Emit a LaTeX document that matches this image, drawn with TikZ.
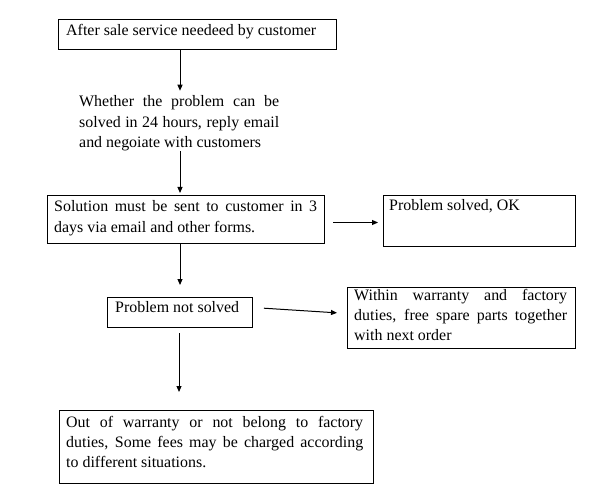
\documentclass[tikz,border=0pt]{standalone}
\usepackage{fontspec}
\setmainfont{Liberation Serif}
\usetikzlibrary{arrows.meta}
\begin{document}
\begin{tikzpicture}[x=1bp,y=-1bp,
  box/.style={draw, line width=1bp, inner sep=0pt, anchor=north west},
  txt/.style={inner sep=0pt, anchor=base west, font=\fontsize{16}{20.5}\selectfont},
  arr/.style={draw, line width=1bp, -{Triangle[length=6bp,width=5bp]}}]
\useasboundingbox (0,0) rectangle (600,493);
% boxes
\node[box, minimum width=278bp, minimum height=30bp] (b1) at (58,19) {};
\node[box, minimum width=277bp, minimum height=48bp] (b3) at (47,195) {};
\node[box, minimum width=192bp, minimum height=51bp] (b4) at (383,195) {};
\node[box, minimum width=145bp, minimum height=30bp] (b5) at (107,297) {};
\node[box, minimum width=228bp, minimum height=61bp] (b6) at (347,287) {};
\node[box, minimum width=314bp, minimum height=73bp] (b7) at (59,410) {};
% texts
\node[txt] (t1) at (66,36) {After sale service needeed by customer};
\node[txt] (t2) at (79,107) {\parbox[t]{200bp}{\makebox[200bp][s]{Whether the problem can be}\\
  \makebox[200bp][s]{solved in 24 hours, reply email}\\
  and negoiate with customers}};
\node[txt] (t3) at (54,212) {\parbox[t]{263bp}{\makebox[263bp][s]{Solution must be sent to customer in 3}\\
  days via email and other forms.}};
\node[txt] (t4) at (389,211) {Problem solved, OK};
\node[txt] (t5) at (115,312) {Problem not solved};
\node[txt] (t6) at (354,300) {\parbox[t]{213bp}{\makebox[213bp][s]{Within warranty and factory}\\
  \makebox[213bp][s]{duties, free spare parts together}\\
  with next order}};
\node[txt] (t7) at (66,427) {\parbox[t]{297bp}{\makebox[297bp][s]{Out of warranty or not belong to factory}\\
  \makebox[297bp][s]{duties, Some fees may be charged according}\\
  to different situations.}};
% connectors
\coordinate (spine) at (180,0);
\coordinate (spineb) at (179,0);
\draw[arr, shorten >=5bp] (spine |- b1.south) -- (spine |- t2.north);
\draw[arr, shorten >=2bp] (spine |- t2.south) -- (spine |- b3.north);
\draw[arr, shorten >=12bp] (spine |- b3.south) -- (spine |- b5.north);
\draw[arr, shorten <=8bp, shorten >=5bp] ([yshift=-3bp]b3.east) -- ([yshift=-3bp]b3.east -| b4.west);
\draw[arr, shorten <=11bp, shorten >=10bp] ([yshift=5bp]b5.east) -- ([yshift=4.5bp]b6.west);
\draw[arr, shorten <=5bp, shorten >=18bp] (spineb |- b5.south) -- (spineb |- b7.north);
\end{tikzpicture}
\end{document}
